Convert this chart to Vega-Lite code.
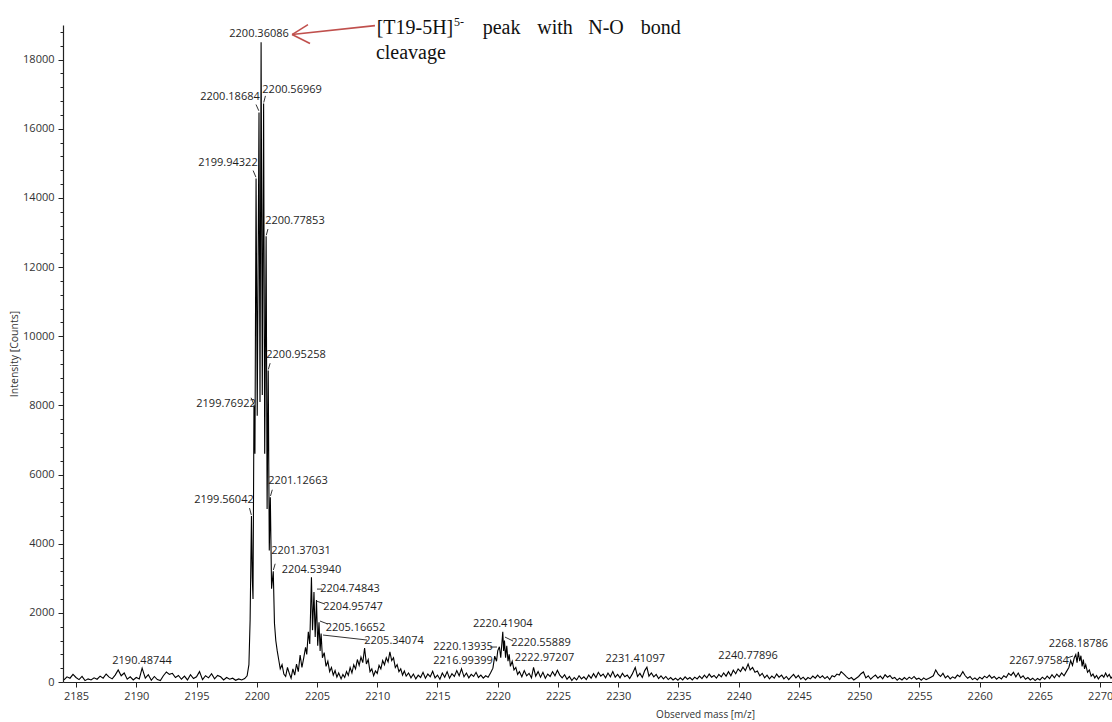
{
  "$schema": "https://vega.github.io/schema/vega-lite/v6.json",
  "width": 1049,
  "height": 657,
  "autosize": {"type": "none"},
  "padding": {"left": 63, "top": 25, "right": 0, "bottom": 40},
  "background": "white",
  "config": {
    "view": {"stroke": null},
    "font": "Open Sans",
    "axis": {
      "domainColor": "#222222",
      "domainWidth": 1.2,
      "tickColor": "#222222",
      "labelColor": "#333333",
      "labelFont": "Open Sans",
      "labelFontSize": 11,
      "titleFont": "Open Sans",
      "titleFontWeight": "normal",
      "titleColor": "#333333",
      "titleFontSize": 10,
      "grid": false,
      "labelOverlap": false
    }
  },
  "datasets": {
    "spectrum": [
      {"m":2184.00,"c":60},{"m":2184.25,"c":150},{"m":2184.50,"c":110},{"m":2184.75,"c":220},
      {"m":2185.00,"c":130},{"m":2185.25,"c":70},{"m":2185.50,"c":160},{"m":2185.75,"c":40},
      {"m":2186.00,"c":90},{"m":2186.25,"c":60},{"m":2186.50,"c":120},{"m":2186.75,"c":80},
      {"m":2187.00,"c":170},{"m":2187.25,"c":110},{"m":2187.50,"c":230},{"m":2187.75,"c":140},
      {"m":2188.00,"c":90},{"m":2188.25,"c":200},{"m":2188.50,"c":350},{"m":2188.75,"c":180},
      {"m":2189.00,"c":260},{"m":2189.25,"c":80},{"m":2189.50,"c":150},{"m":2189.75,"c":60},
      {"m":2190.00,"c":130},{"m":2190.25,"c":90},{"m":2190.48744,"c":400},{"m":2190.75,"c":110},
      {"m":2191.00,"c":210},{"m":2191.25,"c":50},{"m":2191.50,"c":160},{"m":2191.75,"c":70},
      {"m":2192.00,"c":40},{"m":2192.25,"c":180},{"m":2192.50,"c":290},{"m":2192.75,"c":220},
      {"m":2193.00,"c":250},{"m":2193.25,"c":130},{"m":2193.50,"c":190},{"m":2193.75,"c":80},
      {"m":2194.00,"c":170},{"m":2194.25,"c":60},{"m":2194.50,"c":210},{"m":2194.75,"c":100},
      {"m":2195.00,"c":150},{"m":2195.25,"c":300},{"m":2195.50,"c":70},{"m":2195.75,"c":180},
      {"m":2196.00,"c":120},{"m":2196.25,"c":240},{"m":2196.50,"c":90},{"m":2196.75,"c":190},
      {"m":2197.00,"c":150},{"m":2197.25,"c":60},{"m":2197.50,"c":130},{"m":2197.75,"c":80},
      {"m":2198.00,"c":110},{"m":2198.25,"c":50},{"m":2198.50,"c":90},{"m":2198.75,"c":60},
      {"m":2199.00,"c":100},{"m":2199.20,"c":180},{"m":2199.35,"c":500},{"m":2199.45,"c":1800},
      {"m":2199.56042,"c":4800},{"m":2199.63,"c":3000},{"m":2199.69,"c":2400},
      {"m":2199.76922,"c":8000},{"m":2199.85,"c":6600},
      {"m":2199.94322,"c":14560},{"m":2200.04,"c":7700},
      {"m":2200.18684,"c":16470},{"m":2200.27,"c":8100},
      {"m":2200.36086,"c":18500},{"m":2200.46,"c":8300},
      {"m":2200.56969,"c":16730},{"m":2200.66,"c":6600},
      {"m":2200.77853,"c":12890},{"m":2200.86,"c":5000},
      {"m":2200.95258,"c":9010},{"m":2201.04,"c":3800},
      {"m":2201.12663,"c":5345},{"m":2201.23,"c":2700},
      {"m":2201.37031,"c":3200},{"m":2201.47,"c":1700},{"m":2201.58,"c":1200},{"m":2201.70,"c":900},
      {"m":2201.82,"c":650},{"m":2201.95,"c":380},{"m":2202.10,"c":500},{"m":2202.25,"c":230},
      {"m":2202.40,"c":160},{"m":2202.55,"c":420},{"m":2202.70,"c":250},{"m":2202.85,"c":110},
      {"m":2203.00,"c":380},{"m":2203.15,"c":200},{"m":2203.30,"c":520},{"m":2203.45,"c":300},
      {"m":2203.60,"c":780},{"m":2203.75,"c":420},{"m":2203.90,"c":700},{"m":2204.05,"c":1000},
      {"m":2204.15,"c":800},{"m":2204.28,"c":1450},{"m":2204.40,"c":1100},
      {"m":2204.5394,"c":3030},{"m":2204.63,"c":1500},
      {"m":2204.74843,"c":2600},{"m":2204.85,"c":1300},
      {"m":2204.95747,"c":2370},{"m":2205.06,"c":1050},
      {"m":2205.16652,"c":1730},{"m":2205.26,"c":900},
      {"m":2205.34074,"c":1400},{"m":2205.45,"c":700},{"m":2205.60,"c":850},{"m":2205.75,"c":450},
      {"m":2205.90,"c":600},{"m":2206.05,"c":300},{"m":2206.20,"c":420},{"m":2206.35,"c":200},
      {"m":2206.50,"c":330},{"m":2206.65,"c":140},{"m":2206.80,"c":260},{"m":2207.00,"c":90},
      {"m":2207.15,"c":220},{"m":2207.30,"c":130},{"m":2207.45,"c":300},{"m":2207.60,"c":190},
      {"m":2207.75,"c":420},{"m":2207.90,"c":260},{"m":2208.05,"c":500},{"m":2208.20,"c":380},
      {"m":2208.35,"c":650},{"m":2208.50,"c":480},{"m":2208.65,"c":720},{"m":2208.80,"c":560},
      {"m":2208.95,"c":980},{"m":2209.10,"c":520},{"m":2209.25,"c":650},{"m":2209.40,"c":300},
      {"m":2209.55,"c":380},{"m":2209.70,"c":180},{"m":2209.85,"c":320},{"m":2210.00,"c":250},
      {"m":2210.15,"c":480},{"m":2210.30,"c":380},{"m":2210.45,"c":620},{"m":2210.60,"c":500},
      {"m":2210.75,"c":700},{"m":2210.90,"c":580},{"m":2211.05,"c":870},{"m":2211.20,"c":620},
      {"m":2211.35,"c":700},{"m":2211.50,"c":420},{"m":2211.65,"c":500},{"m":2211.80,"c":300},
      {"m":2211.95,"c":380},{"m":2212.10,"c":200},{"m":2212.25,"c":320},{"m":2212.40,"c":170},
      {"m":2212.60,"c":260},{"m":2212.80,"c":120},{"m":2213.00,"c":230},{"m":2213.20,"c":90},
      {"m":2213.40,"c":200},{"m":2213.60,"c":130},{"m":2213.80,"c":280},{"m":2214.00,"c":110},
      {"m":2214.20,"c":230},{"m":2214.40,"c":150},{"m":2214.60,"c":310},{"m":2214.80,"c":120},
      {"m":2215.00,"c":200},{"m":2215.20,"c":80},{"m":2215.40,"c":260},{"m":2215.60,"c":140},
      {"m":2215.80,"c":300},{"m":2216.00,"c":110},{"m":2216.20,"c":240},{"m":2216.40,"c":160},
      {"m":2216.60,"c":330},{"m":2216.80,"c":180},{"m":2216.99399,"c":380},{"m":2217.20,"c":150},
      {"m":2217.40,"c":260},{"m":2217.60,"c":120},{"m":2217.80,"c":220},{"m":2218.00,"c":160},
      {"m":2218.20,"c":280},{"m":2218.40,"c":130},{"m":2218.60,"c":200},{"m":2218.80,"c":110},
      {"m":2219.00,"c":180},{"m":2219.20,"c":140},{"m":2219.40,"c":260},{"m":2219.60,"c":400},
      {"m":2219.75,"c":750},{"m":2219.90,"c":600},{"m":2220.00,"c":900},
      {"m":2220.13935,"c":1020},{"m":2220.25,"c":700},
      {"m":2220.41904,"c":1450},{"m":2220.49,"c":900},
      {"m":2220.55889,"c":1200},{"m":2220.65,"c":700},{"m":2220.75,"c":1050},{"m":2220.85,"c":600},
      {"m":2220.95,"c":800},{"m":2221.05,"c":450},{"m":2221.20,"c":600},{"m":2221.35,"c":350},
      {"m":2221.50,"c":420},{"m":2221.65,"c":220},{"m":2221.80,"c":300},{"m":2222.00,"c":150},
      {"m":2222.20,"c":330},{"m":2222.40,"c":180},{"m":2222.60,"c":250},{"m":2222.80,"c":120},
      {"m":2222.97207,"c":420},{"m":2223.15,"c":170},{"m":2223.35,"c":300},{"m":2223.55,"c":140},
      {"m":2223.75,"c":280},{"m":2223.95,"c":110},{"m":2224.15,"c":230},{"m":2224.35,"c":160},
      {"m":2224.55,"c":300},{"m":2224.75,"c":180},{"m":2224.95,"c":340},{"m":2225.15,"c":200},
      {"m":2225.35,"c":120},{"m":2225.55,"c":210},{"m":2225.75,"c":80},{"m":2225.95,"c":160},
      {"m":2226.15,"c":40},{"m":2226.35,"c":130},{"m":2226.55,"c":60},{"m":2226.75,"c":180},
      {"m":2226.95,"c":90},{"m":2227.15,"c":150},{"m":2227.35,"c":70},{"m":2227.55,"c":200},
      {"m":2227.75,"c":110},{"m":2227.95,"c":240},{"m":2228.15,"c":130},{"m":2228.35,"c":280},
      {"m":2228.55,"c":170},{"m":2228.75,"c":230},{"m":2228.95,"c":120},{"m":2229.15,"c":260},
      {"m":2229.35,"c":150},{"m":2229.55,"c":300},{"m":2229.75,"c":140},{"m":2229.95,"c":220},
      {"m":2230.15,"c":120},{"m":2230.35,"c":250},{"m":2230.55,"c":150},{"m":2230.75,"c":200},
      {"m":2230.95,"c":100},{"m":2231.15,"c":220},{"m":2231.41097,"c":420},{"m":2231.60,"c":160},
      {"m":2231.80,"c":250},{"m":2232.00,"c":130},{"m":2232.20,"c":330},{"m":2232.38,"c":430},
      {"m":2232.55,"c":170},{"m":2232.75,"c":260},{"m":2232.95,"c":150},{"m":2233.15,"c":220},
      {"m":2233.35,"c":100},{"m":2233.55,"c":180},{"m":2233.75,"c":90},{"m":2233.95,"c":160},
      {"m":2234.15,"c":70},{"m":2234.35,"c":130},{"m":2234.55,"c":60},{"m":2234.75,"c":110},
      {"m":2234.95,"c":50},{"m":2235.15,"c":120},{"m":2235.35,"c":60},{"m":2235.55,"c":150},
      {"m":2235.75,"c":80},{"m":2235.95,"c":130},{"m":2236.15,"c":60},{"m":2236.35,"c":140},
      {"m":2236.55,"c":90},{"m":2236.75,"c":170},{"m":2236.95,"c":100},{"m":2237.15,"c":200},
      {"m":2237.35,"c":120},{"m":2237.55,"c":230},{"m":2237.75,"c":140},{"m":2237.95,"c":190},
      {"m":2238.15,"c":110},{"m":2238.35,"c":220},{"m":2238.55,"c":150},{"m":2238.75,"c":260},
      {"m":2238.95,"c":170},{"m":2239.15,"c":300},{"m":2239.35,"c":180},{"m":2239.55,"c":340},
      {"m":2239.75,"c":240},{"m":2239.95,"c":380},{"m":2240.15,"c":300},{"m":2240.35,"c":430},
      {"m":2240.55,"c":330},{"m":2240.77896,"c":520},{"m":2240.95,"c":350},{"m":2241.15,"c":420},
      {"m":2241.35,"c":280},{"m":2241.55,"c":320},{"m":2241.75,"c":180},{"m":2241.95,"c":250},
      {"m":2242.15,"c":120},{"m":2242.35,"c":200},{"m":2242.55,"c":90},{"m":2242.75,"c":170},
      {"m":2242.95,"c":110},{"m":2243.15,"c":230},{"m":2243.35,"c":140},{"m":2243.55,"c":200},
      {"m":2243.75,"c":90},{"m":2243.95,"c":160},{"m":2244.15,"c":70},{"m":2244.35,"c":150},
      {"m":2244.55,"c":220},{"m":2244.75,"c":120},{"m":2244.95,"c":190},{"m":2245.15,"c":80},
      {"m":2245.35,"c":140},{"m":2245.55,"c":60},{"m":2245.75,"c":130},{"m":2245.95,"c":90},
      {"m":2246.15,"c":170},{"m":2246.35,"c":110},{"m":2246.55,"c":200},{"m":2246.75,"c":120},
      {"m":2246.95,"c":180},{"m":2247.15,"c":100},{"m":2247.35,"c":160},{"m":2247.55,"c":70},
      {"m":2247.75,"c":180},{"m":2247.95,"c":150},{"m":2248.15,"c":230},{"m":2248.35,"c":200},
      {"m":2248.50,"c":300},{"m":2248.75,"c":220},{"m":2248.95,"c":150},{"m":2249.15,"c":90},
      {"m":2249.35,"c":130},{"m":2249.55,"c":60},{"m":2249.75,"c":110},{"m":2249.95,"c":160},
      {"m":2250.15,"c":240},{"m":2250.35,"c":290},{"m":2250.55,"c":120},{"m":2250.75,"c":180},
      {"m":2250.95,"c":80},{"m":2251.15,"c":150},{"m":2251.35,"c":200},{"m":2251.55,"c":110},
      {"m":2251.75,"c":170},{"m":2251.95,"c":90},{"m":2252.15,"c":210},{"m":2252.35,"c":140},
      {"m":2252.55,"c":190},{"m":2252.75,"c":100},{"m":2252.95,"c":130},{"m":2253.15,"c":50},
      {"m":2253.35,"c":110},{"m":2253.55,"c":60},{"m":2253.75,"c":130},{"m":2253.95,"c":70},
      {"m":2254.15,"c":140},{"m":2254.35,"c":90},{"m":2254.55,"c":160},{"m":2254.75,"c":80},
      {"m":2254.95,"c":110},{"m":2255.15,"c":50},{"m":2255.35,"c":120},{"m":2255.55,"c":70},
      {"m":2255.75,"c":100},{"m":2255.95,"c":140},{"m":2256.15,"c":180},{"m":2256.35,"c":350},
      {"m":2256.55,"c":230},{"m":2256.75,"c":160},{"m":2256.95,"c":250},{"m":2257.15,"c":120},
      {"m":2257.35,"c":180},{"m":2257.55,"c":90},{"m":2257.75,"c":150},{"m":2257.95,"c":110},
      {"m":2258.15,"c":200},{"m":2258.35,"c":150},{"m":2258.60,"c":300},{"m":2258.80,"c":180},
      {"m":2259.00,"c":110},{"m":2259.20,"c":160},{"m":2259.40,"c":70},{"m":2259.60,"c":120},
      {"m":2259.80,"c":60},{"m":2260.00,"c":140},{"m":2260.20,"c":90},{"m":2260.40,"c":170},
      {"m":2260.60,"c":120},{"m":2260.80,"c":200},{"m":2261.00,"c":110},{"m":2261.20,"c":160},
      {"m":2261.40,"c":80},{"m":2261.60,"c":140},{"m":2261.80,"c":90},{"m":2262.00,"c":180},
      {"m":2262.20,"c":130},{"m":2262.40,"c":250},{"m":2262.60,"c":190},{"m":2262.80,"c":280},
      {"m":2263.00,"c":150},{"m":2263.20,"c":260},{"m":2263.40,"c":120},{"m":2263.60,"c":180},
      {"m":2263.80,"c":80},{"m":2264.00,"c":130},{"m":2264.20,"c":60},{"m":2264.40,"c":110},
      {"m":2264.60,"c":40},{"m":2264.80,"c":100},{"m":2265.00,"c":60},{"m":2265.20,"c":140},
      {"m":2265.40,"c":80},{"m":2265.60,"c":170},{"m":2265.80,"c":100},{"m":2266.00,"c":210},
      {"m":2266.20,"c":120},{"m":2266.40,"c":230},{"m":2266.60,"c":150},{"m":2266.80,"c":260},
      {"m":2267.00,"c":180},{"m":2267.20,"c":300},{"m":2267.40,"c":420},{"m":2267.55,"c":620},
      {"m":2267.70,"c":480},{"m":2267.85,"c":700},{"m":2267.97584,"c":790},{"m":2268.08,"c":560},
      {"m":2268.18786,"c":870},{"m":2268.30,"c":600},{"m":2268.40,"c":760},{"m":2268.50,"c":450},
      {"m":2268.60,"c":650},{"m":2268.70,"c":380},{"m":2268.80,"c":500},{"m":2268.95,"c":280},
      {"m":2269.10,"c":350},{"m":2269.25,"c":170},{"m":2269.40,"c":230},{"m":2269.55,"c":120},
      {"m":2269.70,"c":190},{"m":2269.85,"c":90},{"m":2270.00,"c":160},{"m":2270.15,"c":200},
      {"m":2270.30,"c":140},{"m":2270.45,"c":260},{"m":2270.60,"c":150},{"m":2270.75,"c":220},
      {"m":2270.90,"c":110},{"m":2271.05,"c":170}
    ],
    "peakLabels": [
      {"pm":2190.48744,"m":2190.48,"c":615},
      {"pm":2199.56042,"m":2197.28,"c":5259},
      {"pm":2199.76922,"m":2197.45,"c":8032},
      {"pm":2199.94322,"m":2197.61,"c":14996},
      {"pm":2200.18684,"m":2197.78,"c":16932},
      {"pm":2200.36086,"m":2200.19,"c":18752},
      {"pm":2200.56969,"m":2202.93,"c":17134},
      {"pm":2200.77853,"m":2203.17,"c":13320},
      {"pm":2200.95258,"m":2203.26,"c":9448},
      {"pm":2201.12663,"m":2203.42,"c":5808},
      {"pm":2201.37031,"m":2203.67,"c":3785},
      {"pm":2204.5394,"m":2204.54,"c":3236},
      {"pm":2204.74843,"m":2207.74,"c":2687},
      {"pm":2204.95747,"m":2207.99,"c":2176},
      {"pm":2205.16652,"m":2208.19,"c":1570},
      {"pm":2205.34074,"m":2211.39,"c":1185},
      {"pm":2216.99399,"m":2217.12,"c":615},
      {"pm":2220.13935,"m":2217.12,"c":1020},
      {"pm":2220.41904,"m":2220.42,"c":1676},
      {"pm":2220.55889,"m":2223.59,"c":1136},
      {"pm":2222.97207,"m":2223.88,"c":702},
      {"pm":2231.41097,"m":2231.41,"c":665},
      {"pm":2240.77896,"m":2240.78,"c":751},
      {"pm":2267.97584,"m":2264.92,"c":607},
      {"pm":2268.18786,"m":2268.19,"c":1089}
    ],
    "leaders": [
      {"m":2199.94,"c":16700,"m2":2200.17,"c2":16520},
      {"m":2200.72,"c":16950,"m2":2200.58,"c2":16760},
      {"m":2199.70,"c":14790,"m2":2199.93,"c2":14600},
      {"m":2200.93,"c":13100,"m2":2200.79,"c2":12920},
      {"m":2201.11,"c":9220,"m2":2200.96,"c2":9040},
      {"m":2199.53,"c":8220,"m2":2199.76,"c2":8030},
      {"m":2201.29,"c":5560,"m2":2201.14,"c2":5380},
      {"m":2199.40,"c":5030,"m2":2199.55,"c2":4830},
      {"m":2201.53,"c":3420,"m2":2201.38,"c2":3240},
      {"m":2205.00,"c":2687,"m2":2205.41,"c2":2687},
      {"m":2204.96,"c":2340,"m2":2205.66,"c2":2254},
      {"m":2205.25,"c":1762,"m2":2205.91,"c2":1676},
      {"m":2205.50,"c":1358,"m2":2209.15,"c2":1214},
      {"m":2219.36,"c":1011,"m2":2219.94,"c2":1011},
      {"m":2220.60,"c":1300,"m2":2221.27,"c2":1185},
      {"m":2267.24,"c":693,"m2":2267.74,"c2":751}
    ],
    "arrow": [
      {"m":2209.81,"c":18983,"m2":2202.93,"c2":18723},
      {"m":2204.25,"c":19012,"m2":2202.93,"c2":18723},
      {"m":2204.42,"c":18463,"m2":2202.93,"c2":18723}
    ],
    "note": [
      {"t":"[T19-5H]","m":2209.95,"c":18743},
      {"t":"peak","m":2218.75,"c":18743},
      {"t":"with","m":2223.28,"c":18743},
      {"t":"N-O","m":2227.51,"c":18743},
      {"t":"bond","m":2231.86,"c":18743},
      {"t":"cleavage","m":2209.89,"c":18021}
    ],
    "noteSup": [
      {"t":"5-","m":2216.37,"c":18983}
    ]
  },
  "encoding": {
    "x": {
      "field": "m",
      "type": "quantitative",
      "title": "Observed mass [m/z]",
      "scale": {"domain": [2183.92, 2270.98], "nice": false, "zero": false},
      "axis": {
        "values": [2185, 2190, 2195, 2200, 2205, 2210, 2215, 2220, 2225, 2230, 2235, 2240, 2245, 2250, 2255, 2260, 2265, 2270],
        "format": "d",
        "tickSize": 5,
        "labelPadding": 3,
        "titleX": 642,
        "titleY": 32,
        "titleBaseline": "middle",
        "titleAnchor": "start",
        "titleAlign": "center"
      }
    },
    "y": {
      "field": "c",
      "type": "quantitative",
      "title": "Intensity [Counts]",
      "scale": {"domain": [0, 19000], "nice": false, "zero": true},
      "axis": {
        "values": [0, 400, 800, 1200, 1600, 2000, 2400, 2800, 3200, 3600, 4000, 4400, 4800, 5200, 5600, 6000, 6400, 6800, 7200, 7600, 8000, 8400, 8800, 9200, 9600, 10000, 10400, 10800, 11200, 11600, 12000, 12400, 12800, 13200, 13600, 14000, 14400, 14800, 15200, 15600, 16000, 16400, 16800, 17200, 17600, 18000, 18400, 18800],
        "labelExpr": "datum.value % 2000 === 0 ? format(datum.value, 'd') : ''",
        "tickSize": {"condition": {"test": "datum.value % 2000 === 0", "value": 5}, "value": 3},
        "labelPadding": 4,
        "titleFontSize": 10.5,
        "titlePadding": 3
      }
    }
  },
  "layer": [
    {
      "data": {"name": "spectrum"},
      "mark": {"type": "line", "color": "#000000", "strokeWidth": 1.1, "clip": true}
    },
    {
      "data": {"name": "leaders"},
      "mark": {"type": "rule", "color": "#333333", "strokeWidth": 1},
      "encoding": {"x2": {"field": "m2"}, "y2": {"field": "c2"}}
    },
    {
      "data": {"name": "peakLabels"},
      "mark": {"type": "text", "font": "Open Sans", "fontSize": 11, "color": "#1e1e1e", "align": "center", "baseline": "middle"},
      "encoding": {"text": {"field": "pm", "type": "quantitative", "format": ".5f"}}
    },
    {
      "data": {"name": "arrow"},
      "mark": {"type": "rule", "color": "#c0504d", "strokeWidth": 1.6, "clip": false},
      "encoding": {"x2": {"field": "m2"}, "y2": {"field": "c2"}}
    },
    {
      "data": {"name": "note"},
      "mark": {"type": "text", "font": "Liberation Serif", "fontSize": 20, "color": "#111111", "align": "left", "baseline": "alphabetic"},
      "encoding": {"text": {"field": "t"}}
    },
    {
      "data": {"name": "noteSup"},
      "mark": {"type": "text", "font": "Liberation Serif", "fontSize": 12, "color": "#111111", "align": "left", "baseline": "alphabetic"},
      "encoding": {"text": {"field": "t"}}
    }
  ]
}
